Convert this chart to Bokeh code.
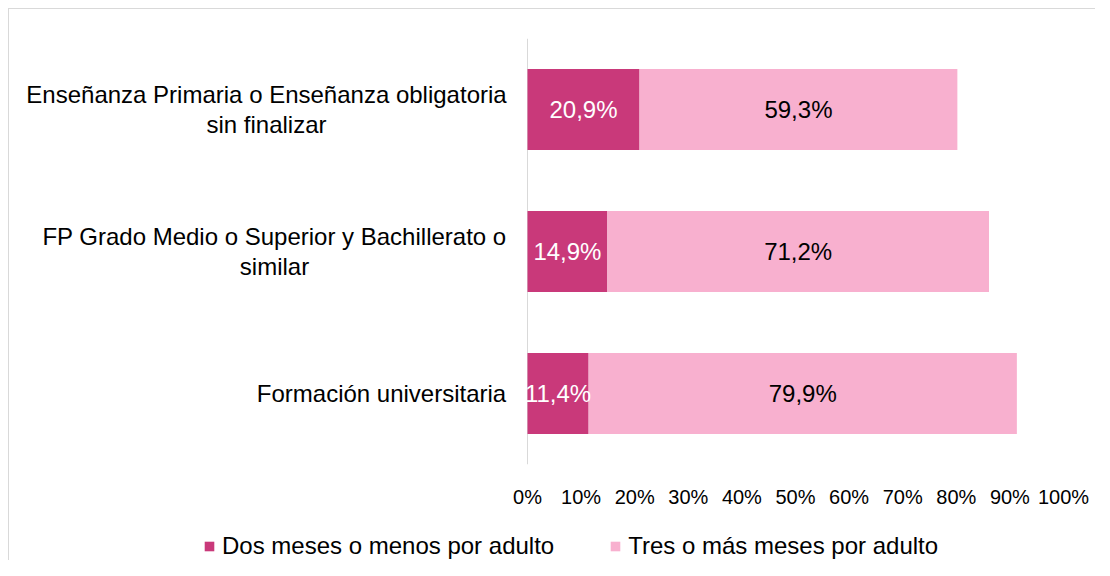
from bokeh.plotting import figure
from bokeh.layouts import column
from bokeh.models import Range1d, FixedTicker, NumeralTickFormatter, Span, Legend, LegendItem, ColumnDataSource
from bokeh.core.properties import value
from bokeh.embed import file_html
from bokeh.resources import INLINE

# ---- data ----
categories = [
    "Enseñanza Primaria o Enseñanza obligatoria\nsin finalizar",
    "FP Grado Medio o Superior y Bachillerato o\nsimilar",
    "Formación universitaria",
]
dos_meses = [20.9, 14.9, 11.4]
tres_meses = [59.3, 71.2, 79.9]
series_names = ["Dos meses o menos por adulto", "Tres o más meses por adulto"]
x_ticks = [0, 10, 20, 30, 40, 50, 60, 70, 80, 90, 100]

# ---- layout / style ----
DARK = "#C9397A"
LIGHT = "#F8B0CF"
FONT = "Liberation Sans"
FS = "24px"
TICK_FS = "20px"
BORDER = "1px solid #d9d9d9"
W = 1086                  # canvas width
H_MAIN, H_LEG = 501, 50   # canvas heights
ZERO_PX = 518             # x of the 0% line inside the canvas
PX_PER_UNIT = 536         # px for 100%
label_centers_px = [257, 265, 372]  # category label centres inside the canvas

n = len(categories)
ypos = [i + 0.5 for i in range(n)]
d_frac = [v / 100 for v in dos_meses]
t_frac = [v / 100 for v in tres_meses]
t_right = [a + b for a, b in zip(d_frac, t_frac)]

src = ColumnDataSource(dict(
    y=ypos, d=d_frac, tr=t_right,
    dmid=[a / 2 for a in d_frac],
    tmid=[a + b / 2 for a, b in zip(d_frac, t_frac)],
    dlab=[f"{v:.1f}".replace(".", ",") + "%" for v in dos_meses],
    tlab=[f"{v:.1f}".replace(".", ",") + "%" for v in tres_meses],
))
cat_src = ColumnDataSource(dict(
    x=[(c - ZERO_PX) / PX_PER_UNIT for c in label_centers_px], y=ypos, text=categories))

x_range = Range1d(-ZERO_PX / PX_PER_UNIT, (W - ZERO_PX) / PX_PER_UNIT)

p = figure(width=W, height=H_MAIN, output_backend="svg", toolbar_location=None,
           x_range=x_range, y_range=Range1d(n, 0),
           min_border_left=0, min_border_right=0, min_border_top=29, min_border_bottom=40)
p.outline_line_color = None
p.grid.visible = False
p.yaxis.visible = False

p.add_layout(Span(location=0, dimension="height", line_color="#d9d9d9", line_width=1, level="underlay"))

r1 = p.hbar(y="y", left=0, right="d", height=0.57, fill_color=DARK, line_color=None, source=src)
r2 = p.hbar(y="y", left="d", right="tr", height=0.57, fill_color=LIGHT, line_color=None, source=src)

p.text(x="dmid", y="y", text="dlab", source=src, text_color="white", text_font=value(FONT),
       text_font_size=FS, text_align="center", text_baseline="middle")
p.text(x="tmid", y="y", text="tlab", source=src, text_color="black", text_font=value(FONT),
       text_font_size=FS, text_align="center", text_baseline="middle")
p.text(x="x", y="y", text="text", source=cat_src, text_color="black", text_font=value(FONT),
       text_font_size=FS, text_align="center", text_baseline="middle", text_line_height=1.08)

xa = p.xaxis[0]
xa.ticker = FixedTicker(ticks=[t / 100 for t in x_ticks])
xa.formatter = NumeralTickFormatter(format="0%")
xa.axis_line_color = None
xa.major_tick_line_color = None
xa.minor_tick_line_color = None
xa.major_label_standoff = 15
xa.major_label_text_font = FONT
xa.major_label_text_font_size = TICK_FS
xa.major_label_text_color = "black"

# ---- legend strip (same series, swatches only) ----
q = figure(width=W, height=H_LEG, output_backend="svg", toolbar_location=None,
           x_range=x_range, y_range=Range1d(n, 0), x_axis_type=None, y_axis_type=None,
           min_border=0)
q.outline_line_color = None
q.grid.visible = False
l1 = q.hbar(y="y", left=0, right="d", height=0.57, fill_color=DARK, line_color=None, source=src, visible=False)
l2 = q.hbar(y="y", left="d", right="tr", height=0.57, fill_color=LIGHT, line_color=None, source=src, visible=False)
legend = Legend(items=[LegendItem(label=series_names[0], renderers=[l1]),
                       LegendItem(label=series_names[1], renderers=[l2])],
                orientation="horizontal", location=(194, 0), border_line_color=None,
                background_fill_alpha=0, inactive_fill_alpha=0, padding=0, margin=0, spacing=55,
                glyph_width=12, glyph_height=12, label_standoff=7, label_height=23,
                label_text_font=FONT, label_text_font_size=FS, label_text_color="black")
q.add_layout(legend, "center")

inner = column(p, q, spacing=0, styles={"border-left": BORDER, "border-top": BORDER})
root = column(inner, styles={"padding-left": "8px", "padding-top": "8px"})

open("out.html", "w").write(file_html(root, INLINE))
